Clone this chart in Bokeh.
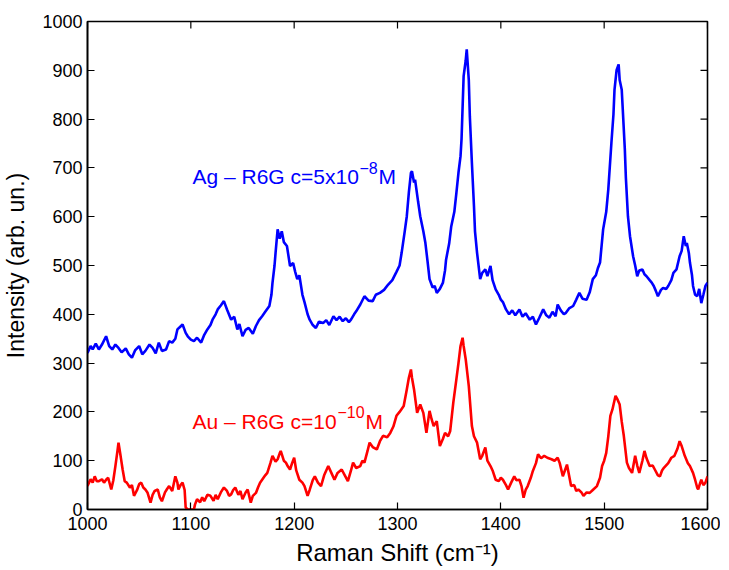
import math
from bokeh.plotting import figure
from bokeh.models import SingleIntervalTicker, Label, Range1d
from bokeh.embed import file_html
from bokeh.resources import INLINE

# ---- data ----
ag_shift = [1000,1003,1005,1008,1011,1014,1018,1021,1024,1027,1030,1033,1037,1040,1043,1046,1050,1053,1056,1060,
            1063,1066,1069,1072,1076,1079,1082,1085,1087,1090,1092,1095,1097,1100,1103,1106,1110,1113,1116,1119,
            1121,1124,1126,1129,1132,1135,1139,1142,1145,1147,1150,1153,1156,1160,1163,1166,1169,1172,1176,1178,
            1179,1181,1182,1184,1186,1188,1190,1193,1196,1199,1201,1203,1205,1208,1210,1213,1215,1218,1221,1224,
            1228,1231,1234,1238,1241,1244,1247,1250,1253,1255,1258,1260,1264,1268,1272,1276,1279,1283,1287,1291,
            1295,1299,1302,1304,1307,1309,1311,1313,1314,1316,1317,1320,1322,1325,1327,1329,1331,1334,1336,1338,
            1341,1344,1346,1347,1350,1352,1355,1357,1359,1361,1362,1364,1366,1367,1369,1370,1372,1374,1375,1377,
            1379,1380,1382,1385,1387,1390,1392,1395,1398,1400,1402,1405,1408,1411,1414,1418,1421,1424,1428,1431,
            1434,1437,1441,1444,1447,1450,1453,1455,1458,1461,1463,1466,1470,1473,1476,1479,1483,1486,1489,1492,
            1494,1496,1499,1502,1504,1507,1509,1510,1512,1514,1515,1517,1518,1520,1521,1523,1525,1528,1530,1532,
            1534,1537,1539,1541,1544,1546,1548,1550,1552,1555,1557,1560,1562,1565,1567,1570,1573,1575,1577,1579,
            1580,1582,1583,1585,1586,1588,1590,1592,1594,1596,1598,1600]
ag_intensity = [321,335,328,340,328,338,355,335,328,338,331,322,330,318,311,326,335,318,325,338,
                331,320,342,325,328,345,342,350,369,375,379,362,355,348,345,352,342,358,369,378,
                389,400,410,418,427,410,389,395,369,380,355,368,372,360,376,388,396,405,417,440,
                464,500,526,574,555,570,548,540,499,505,487,472,480,440,425,400,389,378,372,385,
                382,388,378,396,388,395,386,392,384,389,400,406,420,437,428,427,440,444,450,461,
                470,487,500,526,570,601,650,690,693,670,676,630,601,570,546,510,472,455,458,444,
                452,465,490,512,545,580,610,649,690,724,760,888,920,943,880,806,710,622,570,526,
                490,472,485,492,478,499,470,451,440,430,425,410,400,408,398,410,395,402,389,395,
                379,392,410,398,393,405,396,420,408,400,403,412,417,430,444,432,430,445,472,480,
                495,506,574,610,656,751,810,860,900,912,880,860,820,738,680,601,560,519,500,478,
                490,492,482,478,470,465,458,448,437,450,454,452,458,470,485,492,519,530,560,540,
                546,525,506,480,458,440,437,452,423,440,458,465]

au_shift = [1000,1003,1005,1007,1009,1011,1014,1016,1018,1020,1023,1025,1027,1029,1030,1032,1034,1036,1038,1041,
            1043,1045,1048,1050,1052,1054,1056,1058,1061,1063,1065,1068,1070,1072,1075,1077,1079,1082,1085,1087,
            1088,1090,1092,1094,1095,1097,1100,1103,1104,1106,1109,1111,1113,1116,1119,1122,1124,1126,1129,1132,
            1135,1137,1139,1141,1143,1146,1148,1150,1153,1155,1158,1160,1163,1165,1167,1169,1172,1174,1177,1179,
            1182,1184,1186,1187,1190,1192,1194,1196,1198,1200,1202,1205,1208,1210,1213,1215,1218,1220,1223,1226,
            1229,1233,1236,1239,1242,1246,1249,1252,1255,1257,1260,1264,1266,1268,1271,1273,1276,1280,1283,1286,
            1290,1293,1296,1299,1302,1306,1309,1311,1313,1314,1316,1319,1322,1325,1328,1331,1333,1335,1338,1341,
            1344,1346,1349,1351,1354,1357,1359,1361,1363,1364,1366,1369,1372,1374,1377,1380,1382,1385,1387,1390,
            1392,1395,1398,1400,1402,1405,1407,1410,1413,1415,1418,1420,1422,1424,1426,1429,1431,1434,1436,1439,
            1442,1445,1449,1452,1455,1457,1460,1462,1464,1466,1468,1471,1473,1475,1478,1480,1483,1486,1489,1493,
            1496,1498,1500,1502,1504,1506,1508,1511,1513,1515,1517,1519,1522,1524,1527,1530,1532,1534,1537,1539,
            1541,1544,1547,1549,1552,1554,1556,1558,1562,1565,1568,1571,1573,1575,1578,1581,1583,1586,1588,1590,
            1591,1593,1594,1596,1598,1600]
au_intensity = [48,62,55,68,58,58,62,55,61,65,41,60,89,120,137,110,82,58,55,45,
                50,28,40,52,55,45,41,35,14,30,38,41,25,17,35,42,48,38,68,55,
                41,50,55,40,4,0,0,0,10,21,15,25,17,30,28,18,30,21,35,45,
                38,28,31,40,45,30,38,21,35,41,14,28,34,45,55,61,70,75,95,110,
                98,103,115,120,100,96,88,82,95,106,80,61,55,48,28,40,60,68,55,48,
                70,89,75,61,75,82,70,58,80,96,85,89,100,96,120,137,128,123,140,151,
                148,157,170,192,200,212,246,270,287,270,246,198,215,198,157,202,185,171,181,130,
                145,157,150,161,219,267,300,335,352,335,308,253,171,150,137,103,110,127,100,89,
                80,61,58,65,61,50,41,55,68,60,61,48,24,40,48,65,79,95,113,105,
                110,106,103,100,106,95,68,80,92,70,48,50,38,41,35,28,35,34,40,48,
                65,89,100,116,150,192,205,233,225,215,180,151,96,85,75,110,90,75,100,120,
                105,89,90,82,70,68,80,86,95,106,110,125,140,130,110,95,89,75,61,45,
                41,55,61,50,55,68]

x_range = (1000, 1600)
y_range = (0, 1000)
x_ticks = [1000, 1100, 1200, 1300, 1400, 1500, 1600]
y_ticks = [0, 100, 200, 300, 400, 500, 600, 700, 800, 900, 1000]

FONT = "Liberation Sans"

p = figure(width=720, height=569, output_backend="svg", toolbar_location=None,
           x_range=Range1d(*x_range), y_range=Range1d(*y_range),
           min_border_left=87, min_border_top=21, min_border_right=13, min_border_bottom=60,
           x_axis_label="Raman Shift (cm\u207b\u00b9)", y_axis_label="Intensity (arb. un.)")

p.line(ag_shift, ag_intensity, line_color="#0000ff", line_width=2.6)
p.line(au_shift, au_intensity, line_color="#ff0000", line_width=2.6)

p.xgrid.grid_line_color = None
p.ygrid.grid_line_color = None
p.outline_line_color = "black"
p.outline_line_width = 1.6
p.background_fill_color = "white"
p.border_fill_color = "white"

xax = p.below[0]
yax = p.left[0]
xax.ticker = SingleIntervalTicker(interval=100, num_minor_ticks=0)
yax.ticker = SingleIntervalTicker(interval=100, num_minor_ticks=0)

for ax in [xax, yax]:
    ax.axis_line_color = "black"
    ax.axis_line_width = 1.6
    ax.major_tick_line_color = "black"
    ax.major_tick_line_width = 1.2
    ax.major_tick_in = 7
    ax.major_tick_out = 0
    ax.minor_tick_line_color = None
    ax.major_label_text_font = FONT
    ax.major_label_text_font_size = "18px"
    ax.major_label_text_color = "black"
    ax.axis_label_text_font = FONT
    ax.axis_label_text_font_size = "23px"
    ax.axis_label_text_font_style = "normal"
    ax.axis_label_text_color = "black"

xax.axis_label_text_font_size = "24px"
xax.major_label_standoff = 7
xax.axis_label_standoff = 6
yax.major_label_standoff = 5
yax.axis_label_standoff = 10

# inward ticks on the top and right edges (box style)
p.ray(x=x_ticks, y=[y_range[1]] * len(x_ticks), length=7, length_units="screen",
      angle=-math.pi / 2, line_color="black", line_width=1.2)
p.ray(x=[x_range[1]] * len(y_ticks), y=y_ticks, length=7, length_units="screen",
      angle=math.pi, line_color="black", line_width=1.2)

# ---- annotations ----
ag_pos = (1101.6, 682)
au_pos = (1101.6, 181)

def sup_label(pos, main, sup, color, sup_dx, m_dx):
    p.add_layout(Label(x=pos[0], y=pos[1], text=main, text_color=color, text_font=FONT,
                       text_font_size="21px", text_baseline="alphabetic"))
    p.add_layout(Label(x=pos[0], y=pos[1], x_offset=sup_dx, y_offset=9, text=sup, text_color=color,
                       text_font=FONT, text_font_size="16px", text_baseline="alphabetic"))
    p.add_layout(Label(x=pos[0], y=pos[1], x_offset=m_dx, text="M", text_color=color, text_font=FONT,
                       text_font_size="21px", text_baseline="alphabetic"))

sup_label(ag_pos, "Ag \u2013 R6G c=5x10", "\u22128", "#0000ff", 167, 186)
sup_label(au_pos, "Au \u2013 R6G c=10", "\u221210", "#ff0000", 145, 173)

open("out.html", "w").write(file_html(p, INLINE))
